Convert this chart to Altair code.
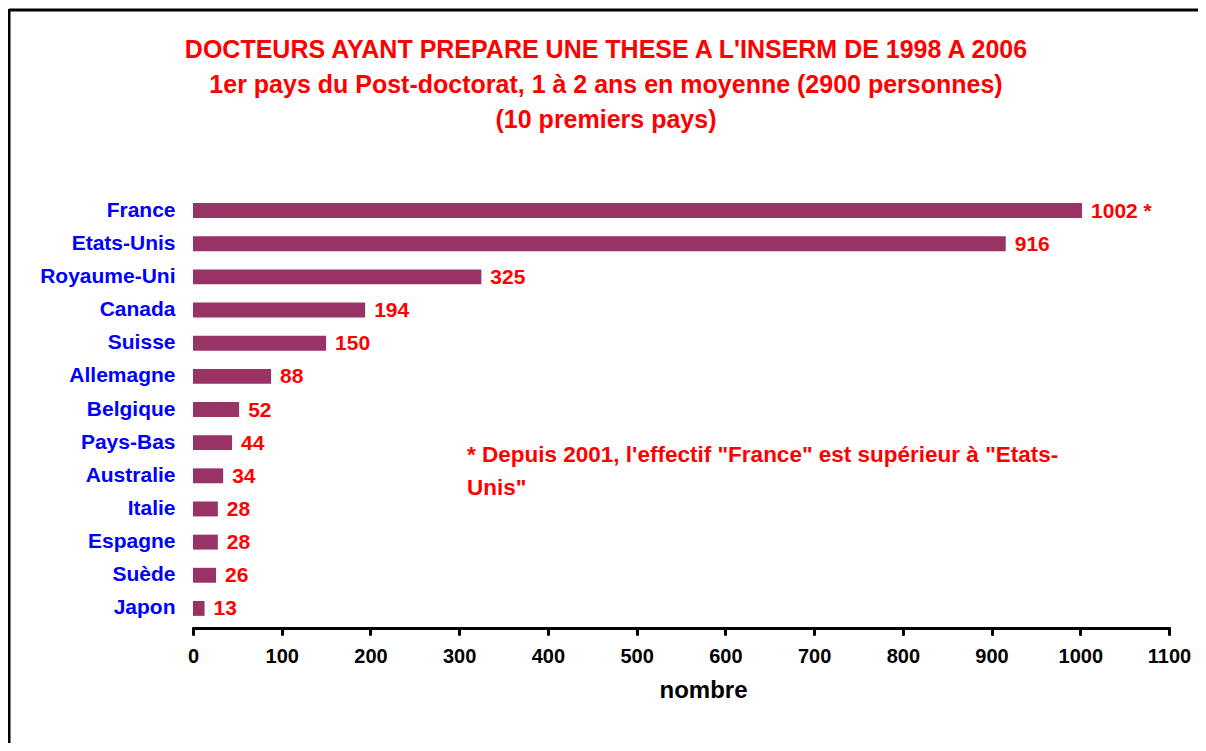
import altair as alt
import pandas as pd

countries = ["France", "Etats-Unis", "Royaume-Uni", "Canada", "Suisse", "Allemagne",
             "Belgique", "Pays-Bas", "Australie", "Italie", "Espagne", "Suède", "Japon"]
values = [1002, 916, 325, 194, 150, 88, 52, 44, 34, 28, 28, 26, 13]
notes = [" *", "", "", "", "", "", "", "", "", "", "", "", ""]
x_ticks = [0, 100, 200, 300, 400, 500, 600, 700, 800, 900, 1000, 1100]

title_lines = ["DOCTEURS AYANT PREPARE UNE THESE A L'INSERM DE 1998 A 2006",
               "1er pays du Post-doctorat, 1 à 2 ans en moyenne (2900 personnes)",
               "(10 premiers pays)"]
note_lines = ["* Depuis 2001, l'effectif \"France\" est supérieur à \"Etats-",
              "Unis\""]

df = pd.DataFrame({
    "pays": countries,
    "nombre": values,
    "label": [f"{v}{n}" for v, n in zip(values, notes)],
})

FONT = "Liberation Sans"
W, H = 976, 431

y_enc = alt.Y("pays:N", sort=countries,
              scale=alt.Scale(paddingInner=0.55, paddingOuter=0.275),
              axis=alt.Axis(title=None, labelColor="#0000FF", labelFont=FONT,
                            labelFontSize=21, labelFontWeight="bold",
                            labelPadding=18, ticks=False, domain=False,
                            labelLimit=300))
x_enc = alt.X("nombre:Q",
              scale=alt.Scale(domain=[0, 1100], nice=False),
              axis=alt.Axis(title="nombre", values=x_ticks, grid=False, format="d",
                            domainColor="black", domainWidth=3,
                            tickColor="black", tickWidth=3, tickSize=6,
                            tickCap="round", domainCap="round",
                            labelFont=FONT, labelFontSize=20, labelFontWeight="bold",
                            labelColor="black", labelPadding=12,
                            titleFont=FONT, titleFontSize=24, titleFontWeight="bold",
                            titleColor="black", titleX=510, titleY=69,
                            titleBaseline="alphabetic", offset=3, labelFlush=False))

base = alt.Chart(df)

bars = base.mark_bar(color="#993366").encode(x=x_enc, y=y_enc)

labels = base.mark_text(align="left", baseline="middle", dx=9, dy=1, color="#FF0000",
                        font=FONT, fontSize=21, fontWeight="bold").encode(
    x="nombre:Q", y=alt.Y("pays:N", sort=countries), text="label:N")

note = alt.Chart(pd.DataFrame({"t": [note_lines]})).mark_text(
    align="left", baseline="alphabetic", color="#FF0000", font=FONT,
    fontSize=22.5, fontWeight="bold", lineHeight=33).encode(
    x=alt.value(274), y=alt.value(268), text="t")

title = alt.Chart(pd.DataFrame({"t": [title_lines]})).mark_text(
    align="center", baseline="alphabetic", color="#FF0000", font=FONT,
    fontSize=25, fontWeight="bold", lineHeight=35).encode(
    x=alt.value(413), y=alt.value(-136), text="t")

top_line = alt.Chart(pd.DataFrame({"a": [0]})).mark_rule(color="black", strokeWidth=3).encode(
    x=alt.value(-184), x2=alt.value(1010), y=alt.value(-184))
left_line = alt.Chart(pd.DataFrame({"a": [0]})).mark_rule(color="black", strokeWidth=3).encode(
    x=alt.value(-184), y=alt.value(-185), y2=alt.value(600))

chart = alt.layer(top_line, left_line, title, bars, labels, note).properties(
    width=W, height=H,
    background="white",
    autosize=alt.AutoSizeParams(type="none"),
    padding={"left": 185, "top": 186, "right": 29, "bottom": 118},
).configure_view(strokeWidth=0, stroke="transparent")

chart.save("out.html", embed_options={"renderer": "svg", "actions": False})
